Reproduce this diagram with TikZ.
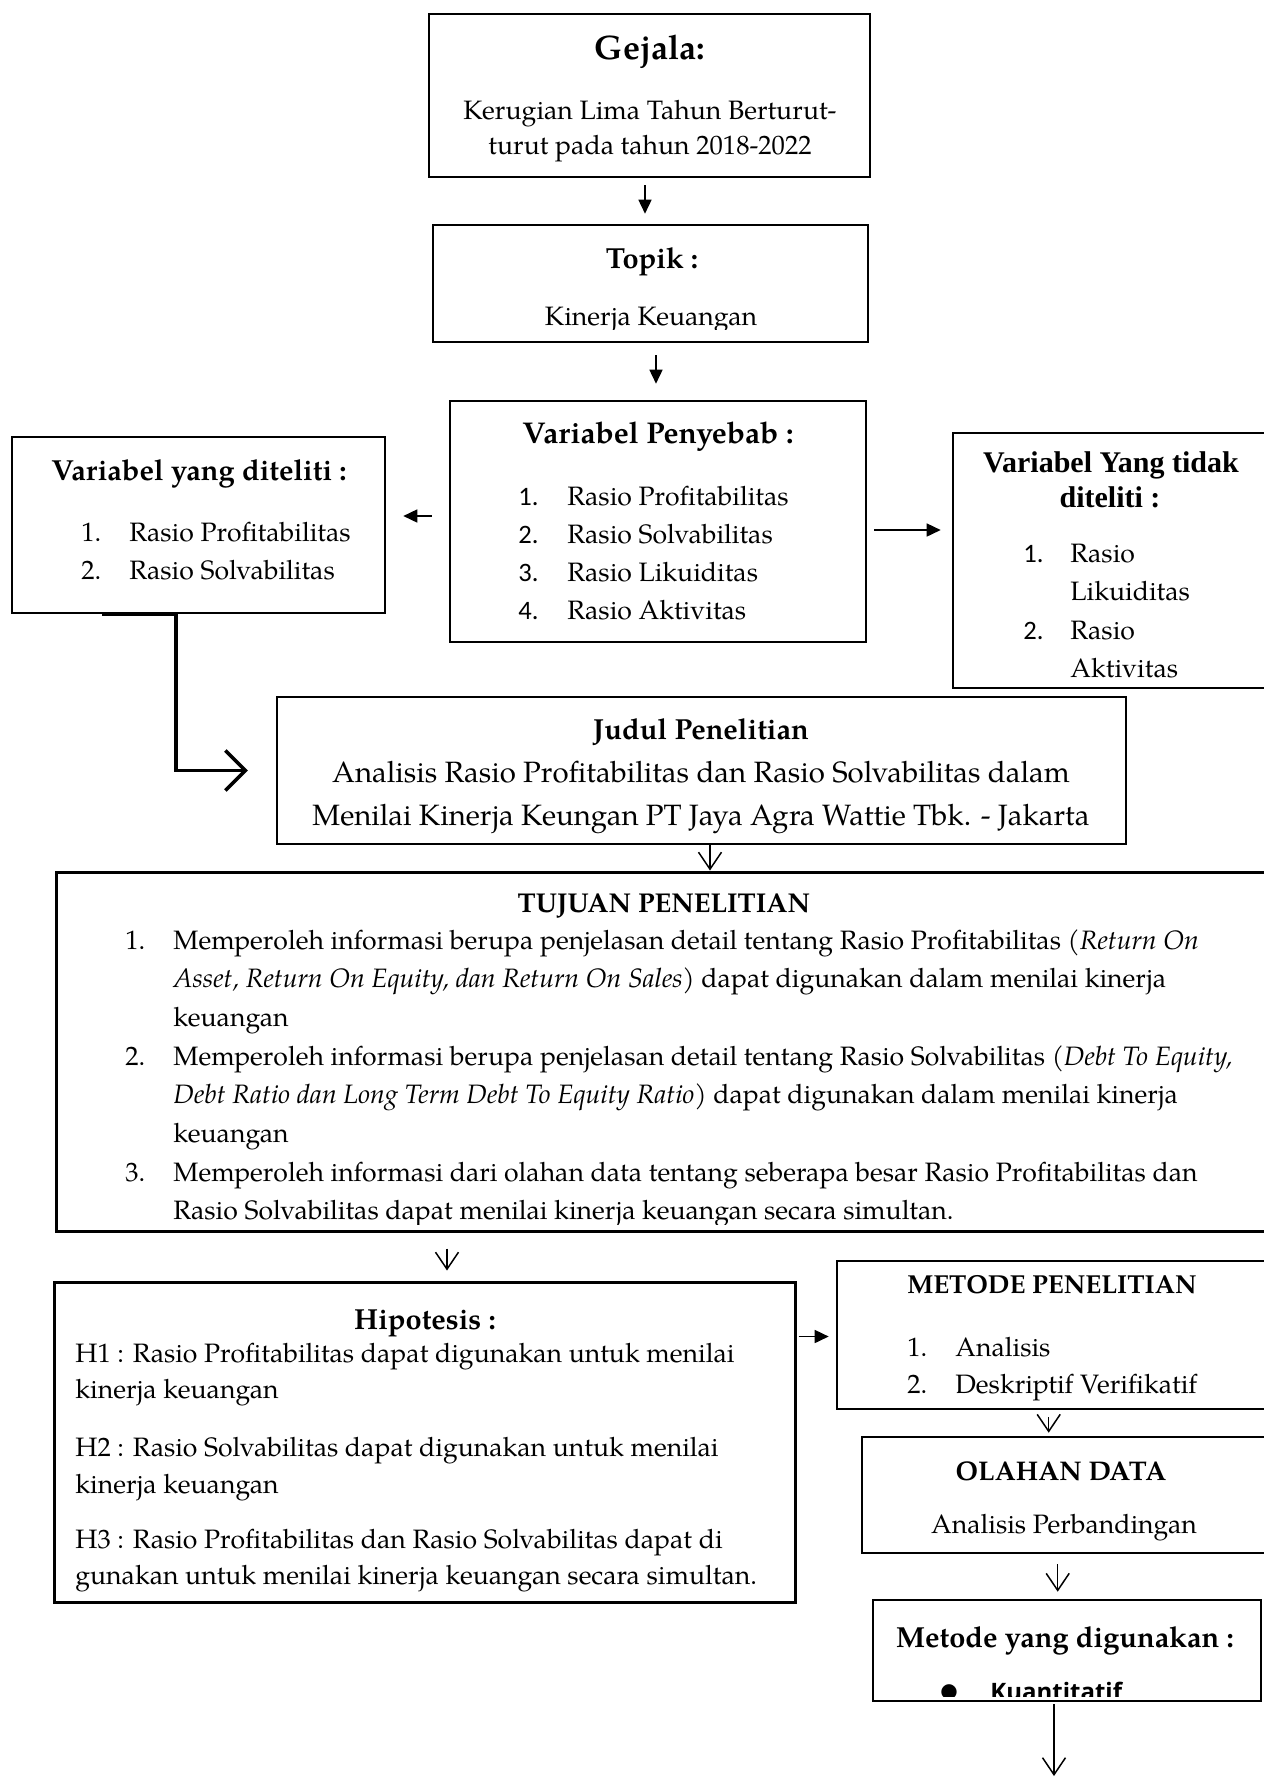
\documentclass[tikz,border=0pt]{standalone}
\usepackage{fontspec}
\setmainfont{texgyrepagella}[Extension=.otf, UprightFont=*-regular, BoldFont=*-bold, ItalicFont=*-italic, BoldItalicFont=*-bolditalic]
\newfontfamily\timesf{Liberation Serif}
\newfontfamily\carlf{Carlito}
\newfontfamily\opensf{Open Sans}
\newfontfamily\djvf{DejaVu Sans}
\usetikzlibrary{arrows.meta, fit, calc}
\newcommand\fsz[1]{\fontsize{#1}{#1}\selectfont}

\begin{document}
\begin{tikzpicture}[x=0.5pt, y=-0.5pt,
  box/.style={draw, line width=1.3pt, inner sep=0pt, rectangle},
  txt/.style={inner sep=0pt, anchor=base, font=\fsz{13.3pt}},
  txl/.style={inner sep=0pt, anchor=base west, font=\fsz{13.3pt}},
  numl/.style={inner sep=0pt, anchor=base west, font=\carlf\fsz{13.3pt}},
  solidarr/.style={line width=0.8pt, -{Triangle[length=7pt,width=6.5pt]}},
  openarr/.style={line width=0.75pt, -{Straight Barb[length=8.5pt,width=11.5pt]}},
  elbow/.style={line width=1.8pt, -{Straight Barb[length=10pt,width=20pt]}}
]
\path[use as bounding box] (0,0) rectangle (1264,1779);
\clip (0,0) rectangle (1264,1779);
\fill[white] (0,0) rectangle (1264,1779);

% ---------- boxes ----------
\node[box, fit={(429,14)(870,177)}] (gejala) {};
\node[box, fit={(433,225)(868,342)}] (topik) {};
\node[box, fit={(450,401)(866,642)}] (penyebab) {};
\node[box, fit={(12,437)(385,613)}] (diteliti) {};
\node[box, fit={(953,433)(1290,688)}] (tidak) {};
\node[box, line width=1.1pt, fit={(277,697)(1126,844)}] (judul) {};
\node[box, line width=1.5pt, fit={(56,872)(1290,1231)}] (tujuan) {};
\node[box, line width=1.5pt, fit={(54,1282)(795,1602)}] (hipotesis) {};
\node[box, fit={(837,1261)(1290,1409)}] (metode) {};
\node[box, fit={(862,1437)(1290,1553)}] (olahan) {};
\node[box, fit={(873,1600)(1261,1701)}] (digunakan) {};

% ---------- Gejala ----------
\node[txt, font=\bfseries\fsz{17pt}] (gjT) at (650,59) {Gejala:};
\node[txt] (gj1) at (650,119) {Kerugian Lima Tahun Berturut-};
\node[txt] (gj2) at (650,154) {turut pada tahun 2018-2022};

% ---------- Topik ----------
\node[txt, font=\bfseries\fsz{14.5pt}] (tpT) at (652,268) {Topik :};
\begin{scope}
  \clip (433,225) rectangle (868,329);
  \node[txt] (tp1) at (651,325) {Kinerja Keuangan};
\end{scope}

% ---------- Variabel Penyebab ----------
\node[txt, font=\bfseries\fsz{15pt}] (pyT) at (658,443) {Variabel Penyebab :};
\node[numl] (pyn1) at (518,505) {1.};
\node[txl] (py1) at (567,505) {Rasio Profitabilitas};
\node[numl] (pyn2) at (518,543) {2.};
\node[txl] (py2) at (567,543) {Rasio Solvabilitas};
\node[numl] (pyn3) at (518,581) {3.};
\node[txl] (py3) at (567,581) {Rasio Likuiditas};
\node[numl] (pyn4) at (518,619) {4.};
\node[txl] (py4) at (567,619) {Rasio Aktivitas};

% ---------- Variabel yang diteliti ----------
\node[txt, font=\bfseries\fsz{14.5pt}] (dtT) at (199,480) {Variabel yang diteliti :};
\node[txl] (dtn1) at (81,541) {1.};
\node[txl] (dt1) at (129,541) {Rasio Profitabilitas};
\node[txl] (dtn2) at (81,579) {2.};
\node[txl] (dt2) at (129,579) {Rasio Solvabilitas};

% ---------- Variabel yang tidak diteliti ----------
\node[txt, font=\timesf\bfseries\fsz{15pt}] (tdT1) at (1111,472) {Variabel Yang tidak};
\node[txt, font=\timesf\bfseries\fsz{15pt}] (tdT2) at (1110,507) {diteliti :};
\node[numl] (tdn1) at (1023,562) {1.};
\node[txl] (td1) at (1070,562) {Rasio};
\node[txl] (td1b) at (1070,600) {Likuiditas};
\node[numl] (tdn2) at (1023,639) {2.};
\node[txl] (td2) at (1070,639) {Rasio};
\node[txl] (td2b) at (1070,677) {Aktivitas};

% ---------- Judul Penelitian ----------
\node[txt, font=\bfseries\fsz{14.5pt}] (jdT) at (701,739) {Judul Penelitian};
\node[txt, font=\fsz{14.7pt}] (jd1) at (701,782) {Analisis Rasio Profitabilitas dan Rasio Solvabilitas dalam};
\node[txt, font=\fsz{14.7pt}] (jd2) at (701,825) {Menilai Kinerja Keungan PT Jaya Agra Wattie Tbk. - Jakarta};

% ---------- Tujuan Penelitian ----------
\node[txt, font=\bfseries\fsz{13.6pt}] (tjT) at (664,912) {TUJUAN PENELITIAN};
\begin{scope}
  \clip (56,872) rectangle (1264,1224);
  \node[txl] (tjn1) at (125,949) {1.};
  \node[txl] (tj1) at (173,949) {Memperoleh informasi berupa penjelasan detail tentang Rasio Profitabilitas \textit{(Return On}};
  \node[txl] (tj2) at (173,987.7) {\textit{Asset, Return On Equity, dan Return On Sales)} dapat digunakan dalam menilai kinerja};
  \node[txl] (tj3) at (173,1026.4) {keuangan};
  \node[txl] (tjn2) at (125,1065.1) {2.};
  \node[txl] (tj4) at (173,1065.1) {Memperoleh informasi berupa penjelasan detail tentang Rasio Solvabilitas \textit{(Debt To Equity,}};
  \node[txl] (tj5) at (173,1103.8) {\textit{Debt Ratio dan Long Term Debt To Equity Ratio)} dapat digunakan dalam menilai kinerja};
  \node[txl] (tj6) at (173,1142.5) {keuangan};
  \node[txl] (tjn3) at (125,1181.2) {3.};
  \node[txl] (tj7) at (173,1181.2) {Memperoleh informasi dari olahan data tentang seberapa besar Rasio Profitabilitas dan};
  \node[txl] (tj8) at (173,1219.9) {Rasio Solvabilitas dapat menilai kinerja keuangan secara simultan.};
\end{scope}

% ---------- Hipotesis ----------
\node[txt, font=\bfseries\fsz{14.5pt}] (hpT) at (425,1329.5) {Hipotesis :};
\node[txl] (hp1) at (75,1362) {H1 : Rasio Profitabilitas dapat digunakan untuk menilai};
\node[txl] (hp1b) at (75,1398) {kinerja keuangan};
\node[txl] (hp2) at (75,1456) {H2 : Rasio Solvabilitas dapat digunakan untuk menilai};
\node[txl] (hp2b) at (75,1493) {kinerja keuangan};
\node[txl] (hp3) at (75,1548) {H3 : Rasio Profitabilitas dan Rasio Solvabilitas dapat di};
\node[txl] (hp3b) at (75,1584) {gunakan untuk menilai kinerja keuangan secara simultan.};

% ---------- Metode Penelitian ----------
\node[txt, font=\bfseries\fsz{13pt}] (mtT) at (1052,1293) {METODE PENELITIAN};
\node[txl] (mtn1) at (907,1356) {1.};
\node[txl] (mt1) at (955,1356) {Analisis};
\node[txl] (mtn2) at (907,1393) {2.};
\node[txl] (mt2) at (955,1393) {Deskriptif Verifikatif};

% ---------- Olahan Data ----------
\node[txt, font=\bfseries\fsz{13.5pt}] (olT) at (1061,1480) {OLAHAN DATA};
\node[txt] (ol1) at (1064,1533) {Analisis Perbandingan};

% ---------- Metode yang digunakan ----------
\node[txt, font=\bfseries\fsz{14.5pt}] (mdT) at (1065,1647) {Metode yang digunakan :};
\begin{scope}
  \clip (873,1600) rectangle (1261,1696);
  \node[inner sep=0pt, anchor=base, font=\djvf\fsz{10pt}] (mdb) at (949,1697) {●};
  \node[inner sep=0pt, anchor=base west, font=\opensf\bfseries\fsz{12pt}] (md1) at (990,1700) {Kuantitatif};
\end{scope}

% ---------- connectors ----------
\draw[solidarr, shorten <=3.5pt, shorten >=5pt]
  ([xshift=-2.25pt]gejala.south) -- ([xshift=-2.25pt]gejala.south |- topik.north);
\draw[solidarr, shorten <=6pt, shorten >=8pt]
  ([xshift=2.75pt]topik.south) -- ([xshift=2.75pt]topik.south |- penyebab.north);
\draw[solidarr, shorten <=8.5pt, shorten >=8.5pt]
  ([yshift=2.75pt]penyebab.west) -- ([yshift=2.75pt]penyebab.west -| diteliti.east);
\draw[solidarr, shorten <=3.5pt, shorten >=5.5pt]
  ([yshift=-4.25pt]penyebab.east) -- ([yshift=-4.25pt]penyebab.east -| tidak.west);
\draw[elbow, shorten >=14pt]
  ($(diteliti.south west)+(91,0)$) -- ($(diteliti.south west)+(165,0)$) |- (judul.west);
\draw[openarr]
  ([xshift=4.25pt]judul.south) -- ([xshift=4.25pt]judul.south |- tujuan.north);
\draw[openarr, shorten <=8pt, shorten >=5pt]
  ([xshift=11.25pt]hipotesis.north |- tujuan.south) -- ([xshift=11.25pt]hipotesis.north);
\draw[solidarr, shorten <=1pt, shorten >=3.5pt]
  ([yshift=-28pt]hipotesis.north east) -- ([yshift=-28pt]hipotesis.north east -| metode.west);
\draw[openarr, shorten <=3.5pt, shorten >=1.5pt]
  ([xshift=106.5pt]metode.south west) -- ([xshift=106.5pt]metode.south west |- olahan.north);
\draw[openarr, shorten <=5pt, shorten >=3.5pt]
  ([xshift=98.5pt]olahan.south west) -- ([xshift=98.5pt]olahan.south west |- digunakan.north);
\coordinate (nextstep) at (1054,1776);
\draw[openarr, shorten <=1pt] (digunakan.south -| nextstep) -- (nextstep);
\end{tikzpicture}
\end{document}
